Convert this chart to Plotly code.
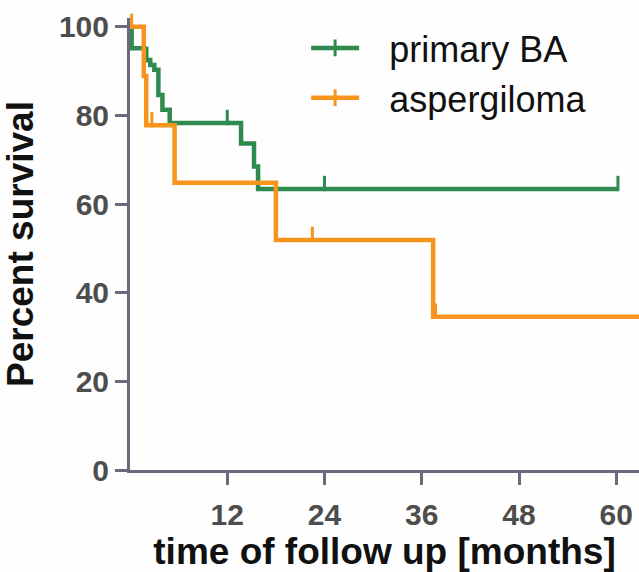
import plotly.graph_objects as go

# ---- data ----
green_name = "primary BA"
green_time = [0, 0.2, 1.8, 2.5, 3.0, 3.5, 4.0, 4.9, 13.7, 15.3, 15.8, 60.2]
green_surv = [100, 95.2, 92.5, 91.4, 90.3, 84.6, 81.3, 78.3, 73.7, 68.5, 63.4, 63.4]
green_cens_time = [2.1, 12.0, 24.0, 60.2]
green_cens_surv = [92.5, 78.3, 63.4, 63.4]

orange_name = "aspergiloma"
orange_time = [0, 1.7, 2.0, 5.5, 18.0, 37.4, 63.0]
orange_surv = [100, 88.9, 77.8, 64.8, 51.9, 34.6, 34.6]
orange_cens_time = [0.2, 2.7, 22.5, 37.7]
orange_cens_surv = [100, 77.8, 51.9, 34.6]

x_ticks = [12, 24, 36, 48, 60]
y_ticks = [0, 20, 40, 60, 80, 100]

GREEN = "#2f8a4f"
ORANGE = "#f7941d"
AXIS = "#6e687e"
TICK_UP = 1.25  # censor tick drawn just above the curve
TICKFONT = dict(size=30, color="#4d4d4d", family="Liberation Sans, Arial, sans-serif", weight="bold")

fig = go.Figure()

for name, t, s, ct, cs, col in [
    (green_name, green_time, green_surv, green_cens_time, green_cens_surv, GREEN),
    (orange_name, orange_time, orange_surv, orange_cens_time, orange_cens_surv, ORANGE),
]:
    fig.add_trace(go.Scatter(x=t, y=s, mode="lines", line=dict(color=col, width=4.5, shape="hv"),
                             showlegend=False, hoverinfo="skip"))
    fig.add_trace(go.Scatter(x=ct, y=[v + TICK_UP for v in cs], mode="markers",
                             marker=dict(symbol="line-ns", size=11, line=dict(color=col, width=3)),
                             showlegend=False, cliponaxis=False, hoverinfo="skip"))
    # legend entry
    fig.add_trace(go.Scatter(x=[None], y=[None], mode="lines+markers", name="\u2002\u2009" + name,
                             legendgroup=name,
                             line=dict(color=col, width=4.5),
                             marker=dict(symbol="line-ns", size=12, line=dict(color=col, width=3))))

fig.update_layout(
    width=639, height=572,
    margin=dict(l=130, r=0, t=18, b=102, autoexpand=False),
    paper_bgcolor="#fefefe", plot_bgcolor="#fefefe",
    font=dict(family="Liberation Sans, Arial, sans-serif"),
    showlegend=True,
    legend=dict(x=0.346, y=1.0, xanchor="left", yanchor="top",
                font=dict(size=36, color="#111111"),
                bgcolor="rgba(0,0,0,0)", itemwidth=48,
                traceorder="grouped", tracegroupgap=0),
    xaxis=dict(range=[0, 62.8], tickvals=x_ticks, showgrid=False, zeroline=False, automargin=False,
               showline=True, linecolor=AXIS, linewidth=3,
               ticks="outside", ticklen=12, tickwidth=3, tickcolor=AXIS,
               tickfont=TICKFONT, ticklabelstandoff=4,
               title=dict(text="<b>time of follow up [months]</b>", font=dict(size=37, color="#111111"), standoff=12)),
    yaxis=dict(range=[0, 102], tickvals=y_ticks, showgrid=False, zeroline=False, automargin=False,
               showline=True, linecolor=AXIS, linewidth=3,
               ticks="outside", ticklen=12, tickwidth=3, tickcolor=AXIS,
               tickfont=TICKFONT,
               title=dict(text="<b>Percent survival</b>", font=dict(size=37, color="#111111"), standoff=26)),
)

fig.write_html("out.html", config={"displayModeBar": False},
               post_script="document.body.style.margin='0';document.body.style.overflow='hidden';")
